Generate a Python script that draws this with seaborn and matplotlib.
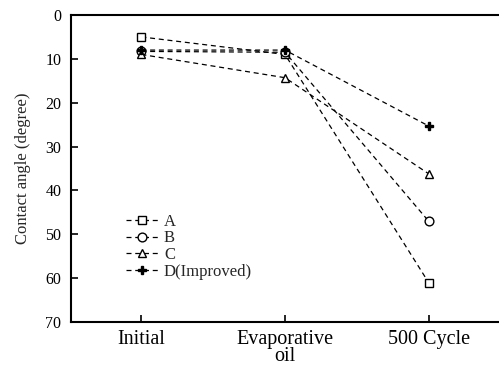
import matplotlib
matplotlib.use("Agg")
import matplotlib.pyplot as plt
import seaborn as sns
import pandas as pd

categories = ["Initial", "Evaporative\noil", "500 Cycle"]
series_names = ["A", "B", "C", "D(Improved)"]
values_A = [5.0, 9.0, 61.0]
values_B = [8.3, 8.5, 47.0]
values_C = [9.0, 14.3, 36.2]
values_D = [8.0, 8.0, 25.3]
y_ticks = [0, 10, 20, 30, 40, 50, 60, 70]

sns.set_theme(style="white")
plt.rcParams["font.family"] = ["Liberation Serif", "DejaVu Serif"]

fig = plt.figure(figsize=(4.99, 3.72), dpi=100)
ax = fig.add_axes([0.1423, 0.1344, 0.8577, 0.8253])

styles = [
    ("s", "white"),
    ("o", "white"),
    ("^", "white"),
    ("P", "black"),
]
for name, vals, (mk, fc) in zip(series_names, [values_A, values_B, values_C, values_D], styles):
    df = pd.DataFrame({"cat": categories, "val": vals})
    sns.lineplot(data=df, x="cat", y="val", ax=ax, sort=False, color="black",
                 linestyle=(0, (4, 3)), linewidth=0.9, marker=mk, markersize=6.3,
                 markerfacecolor=fc, markeredgecolor="black", markeredgewidth=1.0,
                 label=name)

ax.set_xlim(-0.49, 2.49)
ax.set_ylim(70, 0)
ax.set_yticks(y_ticks)
ax.set_yticklabels([str(t) for t in y_ticks], fontsize=11.5)
ax.set_xticks(range(len(categories)))
ax.set_xticklabels(categories, fontsize=14.5, linespacing=0.85)
ax.set_xlabel("")
ax.set_ylabel("Contact angle (degree)", fontsize=12, labelpad=10)
ax.tick_params(axis="both", direction="in", length=5, width=1.2, color="black",
               bottom=True, left=True, colors="black")
ax.tick_params(axis="x", pad=6)
ax.tick_params(axis="y", pad=7)
for s in ["left", "top", "bottom"]:
    ax.spines[s].set_color("black")
    ax.spines[s].set_linewidth(1.5)
ax.spines["right"].set_visible(False)

ax.legend(loc="upper left", bbox_to_anchor=(0.112, 0.375), frameon=False,
          fontsize=12, handlelength=2.0, handletextpad=0.3, labelspacing=0.05,
          borderaxespad=0)

fig.savefig("out.png", dpi=100, facecolor="white")
